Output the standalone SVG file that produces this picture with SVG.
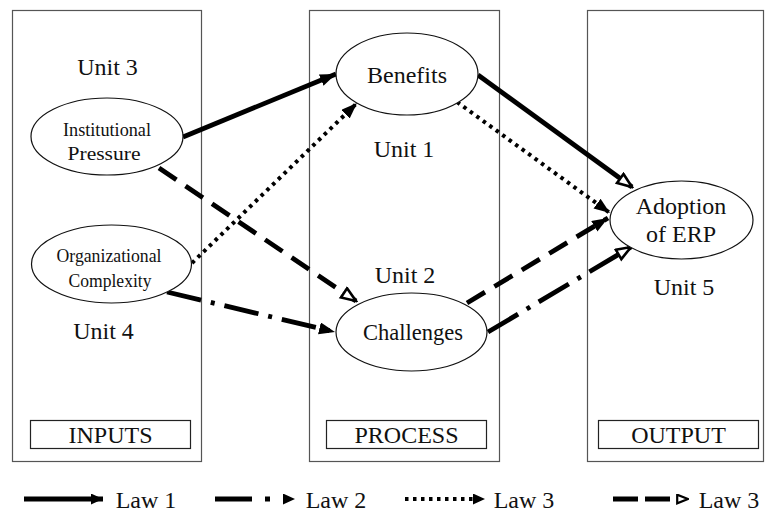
<svg xmlns="http://www.w3.org/2000/svg" width="765" height="512" viewBox="0 0 765 512">
<defs>
<style>
.panel{fill:none;stroke:#555;stroke-width:1.2}
.lbox{fill:#fff;stroke:#222;stroke-width:1.2}
.node{fill:#fff;stroke:#111;stroke-width:1.2}
text{fill:#111;text-anchor:middle}
.big{font-size:24px}
.small{font-size:19px}
.c{fill:none;stroke:#000}
.solid{stroke-width:4.8}
.dash{stroke-width:4.8;stroke-dasharray:21 11}
.dashdot{stroke-width:4.8;stroke-dasharray:35 10 4 10}
.dot{stroke-width:4;stroke-dasharray:3.5 4.5}
</style>
<marker id="af" markerUnits="userSpaceOnUse" markerWidth="17" markerHeight="13" refX="16" refY="6" orient="auto">
<path d="M0,0 L16,6 L0,12 z" fill="#000"/>
</marker>
<marker id="ao" markerUnits="userSpaceOnUse" markerWidth="18" markerHeight="15" refX="16" refY="7" orient="auto">
<path d="M1.5,1.5 L16,7 L1.5,12.5 z" fill="#fff" stroke="#000" stroke-width="2.6" stroke-linejoin="miter"/>
</marker>
<marker id="al" markerUnits="userSpaceOnUse" markerWidth="13" markerHeight="12" refX="12" refY="5.5" orient="auto">
<path d="M0,0 L12,5.5 L0,11 z" fill="#000"/>
</marker>
<marker id="alo" markerUnits="userSpaceOnUse" markerWidth="13" markerHeight="12" refX="12" refY="5.5" orient="auto">
<path d="M1.2,1.2 L12,5.5 L1.2,9.8 z" fill="#fff" stroke="#000" stroke-width="2.2"/>
</marker>
</defs>
<rect width="765" height="512" fill="#fff"/>
<g font-family="'Liberation Serif', 'Times New Roman', 'DejaVu Serif', serif">

<g id="panel-inputs">
<rect class="panel" x="12.5" y="10.5" width="189" height="451"/>
<rect class="lbox" x="30.5" y="420.5" width="160" height="28"/>
<text class="big" x="110.5" y="443">INPUTS</text>
<text class="big" x="107.5" y="75">Unit 3</text>
<text class="big" x="103.5" y="339">Unit 4</text>
</g>
<g id="panel-process">
<rect class="panel" x="309.5" y="10.5" width="190" height="451"/>
<rect class="lbox" x="326.5" y="420.5" width="160" height="28"/>
<text class="big" x="406.5" y="443">PROCESS</text>
<text class="big" x="404" y="157">Unit 1</text>
<text class="big" x="405" y="283">Unit 2</text>
</g>
<g id="panel-output">
<rect class="panel" x="587.5" y="10.5" width="176" height="451"/>
<rect class="lbox" x="598.5" y="420.5" width="160" height="28"/>
<text class="big" x="678.5" y="443">OUTPUT</text>
<text class="big" x="684" y="295">Unit 5</text>
</g>

<g id="connectors">
<path class="c solid" d="M183,137 L336,74" marker-end="url(#af)"/>
<path class="c solid" d="M478,75 L632,187" marker-end="url(#ao)"/>
<path class="c dot" d="M192,263 L357,103" marker-end="url(#af)"/>
<path class="c dot" d="M457,102 L610,213" marker-end="url(#af)"/>
<path class="c dash" d="M159,168 L356,301" marker-end="url(#ao)"/>
<path class="c dashdot" d="M167,292 L335,332" marker-end="url(#af)"/>
<path class="c dash" d="M467,303 L608,218" marker-end="url(#af)"/>
<path class="c dashdot" d="M488,332 L631,247" marker-end="url(#ao)"/>
</g>

<g id="node-institutional">
<ellipse class="node" cx="107" cy="136.5" rx="76" ry="38.5"/>
<text class="small" x="107" y="136" textLength="88" lengthAdjust="spacingAndGlyphs">Institutional</text>
<text class="small" x="104" y="160" textLength="73" lengthAdjust="spacingAndGlyphs">Pressure</text>
</g>
<g id="node-organizational">
<ellipse class="node" cx="111.5" cy="264" rx="80" ry="39"/>
<text class="small" x="109" y="262" textLength="105" lengthAdjust="spacingAndGlyphs">Organizational</text>
<text class="small" x="110" y="287" textLength="83" lengthAdjust="spacingAndGlyphs">Complexity</text>
</g>
<g id="node-benefits">
<ellipse class="node" cx="407" cy="74" rx="71" ry="41"/>
<text class="big" x="407" y="83">Benefits</text>
</g>
<g id="node-challenges">
<ellipse class="node" cx="411.5" cy="332" rx="75.5" ry="39"/>
<text class="big" x="413" y="340" textLength="100" lengthAdjust="spacingAndGlyphs">Challenges</text>
</g>
<g id="node-adoption">
<ellipse class="node" cx="681.5" cy="220" rx="71.5" ry="39"/>
<text class="big" x="681" y="214">Adoption</text>
<text class="big" x="681" y="242">of ERP</text>
</g>

<g id="legend">
<path class="c solid" d="M24,499 H103" marker-end="url(#al)"/>
<text class="big" x="146" y="508">Law 1</text>
<path class="c" stroke-width="4.8" stroke-dasharray="37 13 5 40" d="M215,499 H295" marker-end="url(#al)"/>
<text class="big" x="336" y="508">Law 2</text>
<path class="c dot" d="M405,499 H485" marker-end="url(#al)"/>
<text class="big" x="524" y="508">Law 3</text>
<path class="c" stroke-width="4.8" stroke-dasharray="25 7 25 100" d="M613,499 H688" marker-end="url(#alo)"/>
<text class="big" x="729" y="508">Law 3</text>
</g>
</g>
</svg>
